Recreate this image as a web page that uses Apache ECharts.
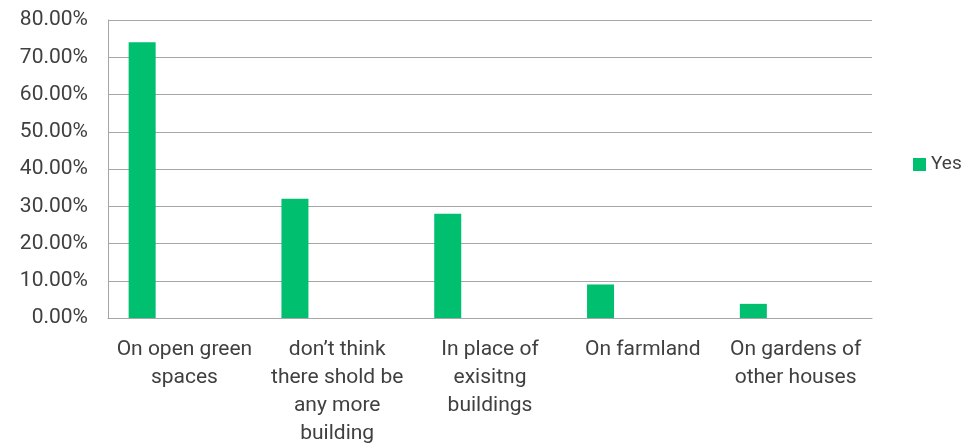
<!DOCTYPE html>
<html>
<head>
<meta charset="utf-8">
<script src="https://cdn.jsdelivr.net/npm/echarts@6/dist/echarts.min.js"></script>
<style>
html,body{margin:0;padding:0;background:#fff;}
#chart{width:964px;height:443px;}
</style>
</head>
<body>
<div id="chart"></div>
<script>
var categories = [
  "On open green\nspaces",
  "don\u2019t think\nthere shold be\nany more\nbuilding",
  "In place of\nexisitng\nbuildings",
  "On farmland",
  "On gardens of\nother houses"
];
var yesValues = [74, 32, 28, 9, 3.8];
var noValues = [];
var yTicks = { min: 0, max: 80, interval: 10 };

var FONT = 'Roboto';
var TEXT = '#404040';
var GRID = '#a6a6a6';

var chart = echarts.init(document.getElementById('chart'), null, { renderer: 'canvas' });
chart.setOption({
  animation: false,
  backgroundColor: '#ffffff',
  textStyle: { fontFamily: FONT },
  grid: { left: 108, right: 92, top: 20, bottom: 125, containLabel: false, outerBoundsMode: 'none' },
  legend: {
    data: ['Yes'],
    left: 908, top: 150,
    itemWidth: 13, itemHeight: 13, itemGap: 10,
    icon: 'rect',
    textStyle: { fontFamily: FONT, fontSize: 19, color: TEXT }
  },
  xAxis: {
    type: 'category',
    data: categories,
    axisLine: { show: true, lineStyle: { color: GRID, width: 1 } },
    axisTick: { show: false },
    splitLine: { show: false },
    axisLabel: {
      interval: 0,
      margin: 18,
      fontFamily: FONT,
      fontSize: 21,
      lineHeight: 28,
      color: TEXT,
      align: 'center'
    }
  },
  yAxis: {
    type: 'value',
    min: yTicks.min, max: yTicks.max, interval: yTicks.interval,
    axisLine: { show: true, lineStyle: { color: GRID, width: 1 } },
    axisTick: { show: false },
    splitLine: { show: true, lineStyle: { color: GRID, width: 1 } },
    axisLabel: {
      margin: 20,
      fontFamily: FONT,
      fontSize: 21,
      color: TEXT,
      formatter: function (v) { return v.toFixed(2) + '%'; }
    }
  },
  series: [
    {
      name: 'Yes',
      type: 'bar',
      data: yesValues,
      barWidth: 27,
      barGap: '213%',
      itemStyle: { color: '#00bf6f' }
    },
    {
      name: 'No',
      type: 'bar',
      data: noValues,
      barWidth: 27,
      itemStyle: { color: '#ff0000' }
    }
  ]
});
</script>
</body>
</html>
